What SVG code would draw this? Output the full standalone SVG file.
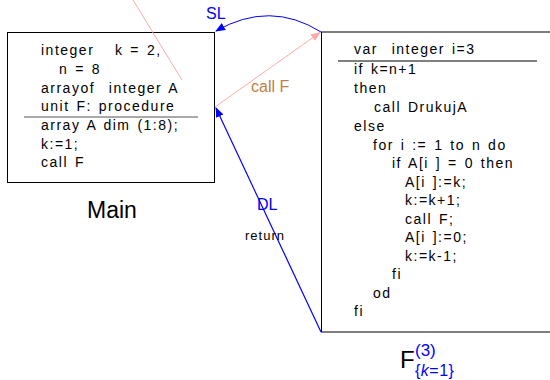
<svg xmlns="http://www.w3.org/2000/svg" width="550" height="380" viewBox="0 0 550 380">
<style>
text{font-family:"Liberation Sans","DejaVu Sans",sans-serif;white-space:pre}
.c{font-size:14px;letter-spacing:1.5px;word-spacing:1.5px;fill:#000}
.box{fill:#fff;stroke:#000;stroke-width:1}
.blue{fill:#0000ff}
</style>
<defs>
<marker id="ab" viewBox="0 0 10 10" refX="9" refY="5" markerWidth="10" markerHeight="10" markerUnits="userSpaceOnUse" orient="auto"><path d="M0,1 L10,5 L0,9 z" fill="#0000ff"/></marker>
<marker id="ap" viewBox="0 0 10 10" refX="9" refY="5" markerWidth="10" markerHeight="10" markerUnits="userSpaceOnUse" orient="auto"><path d="M0,1 L10,5 L0,9 z" fill="#ffaaaa"/></marker>
</defs>
<g id="main">
<rect class="box" x="7.5" y="32.5" width="207" height="150"/>
<line x1="24" y1="117" x2="198" y2="117" stroke="#555" stroke-width="1.2"/>
<text class="c" x="41" y="55">integer   k = 2,</text>
<text class="c" x="59" y="74">n = 8</text>
<text class="c" x="41" y="92.5">arrayof  integer A</text>
<text class="c" x="41" y="111">unit F: procedure</text>
<text class="c" x="41" y="130">array A dim (1:8);</text>
<text class="c" x="41" y="148.5">k:=1;</text>
<text class="c" x="41" y="167">call F</text>
<text x="87" y="218" font-size="23">Main</text>
</g>
<g id="F">
<rect class="box" x="321.5" y="32" width="240" height="300"/>
<line x1="338" y1="61" x2="537" y2="61" stroke="#000" stroke-width="1"/>
<text class="c" x="354" y="54">var  integer i=3</text>
<text class="c" x="354" y="74">if k=n+1</text>
<text class="c" x="354" y="93">then</text>
<text class="c" x="374" y="112">call DrukujA</text>
<text class="c" x="354" y="131">else</text>
<text class="c" x="373" y="149.5">for i := 1 to n do</text>
<text class="c" x="392" y="168">if A[i ] = 0 then</text>
<text class="c" x="405" y="187">A[i ]:=k;</text>
<text class="c" x="405" y="205">k:=k+1;</text>
<text class="c" x="405" y="223.5">call F;</text>
<text class="c" x="405" y="242">A[i ]:=0;</text>
<text class="c" x="405" y="260.5">k:=k-1;</text>
<text class="c" x="392" y="279">fi</text>
<text class="c" x="373" y="297.5">od</text>
<text class="c" x="354" y="316">fi</text>
<text x="400" y="368" font-size="24">F</text>
<text class="blue" x="415" y="356" font-size="17">(3)</text>
<text class="blue" x="415" y="376" font-size="16" letter-spacing="0.5">{<tspan font-style="italic">k</tspan>=1}</text>
</g>
<g id="connectors">
<line x1="133" y1="0" x2="182" y2="80" stroke="#ffaaaa" stroke-width="1"/>
<line x1="215" y1="107" x2="320" y2="32.5" stroke="#ffaaaa" stroke-width="1" marker-end="url(#ap)"/>
<text x="251" y="92" font-size="16" fill="#c08040">call F</text>
<path d="M321,32 Q270,0 216,31" fill="none" stroke="#0000ff" stroke-width="1" marker-end="url(#ab)"/>
<text class="blue" x="206" y="19" font-size="16">SL</text>
<line x1="321" y1="332" x2="216" y2="108" stroke="#0000ff" stroke-width="1.2" marker-end="url(#ab)"/>
<text class="blue" x="257" y="210" font-size="16">DL</text>
<text x="245" y="240" font-size="13" letter-spacing="1">return</text>
</g>
</svg>
